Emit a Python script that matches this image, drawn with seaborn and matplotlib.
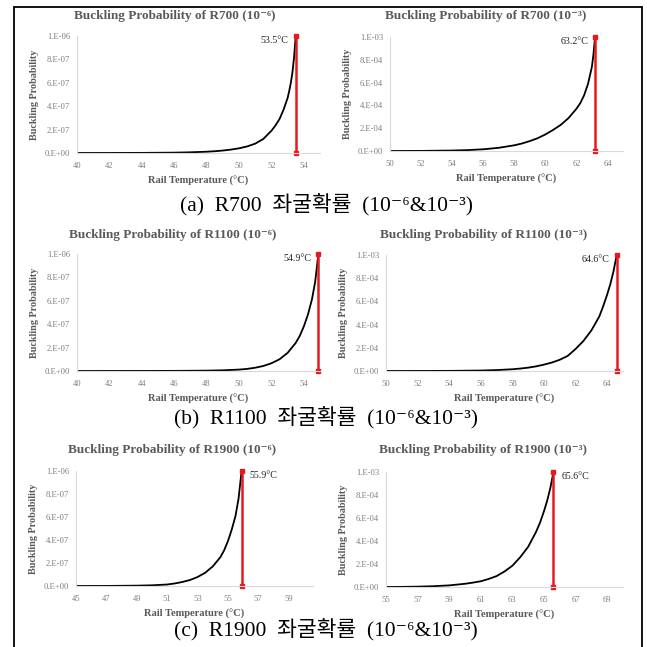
import matplotlib
matplotlib.use("Agg")
import matplotlib.pyplot as plt
import seaborn as sns
import pandas as pd
from matplotlib.patches import Rectangle

# ---------------- data ----------------
r700_e6_T = [40, 42, 44, 45, 46, 47, 48, 48.5, 49, 49.5, 50, 50.5, 51, 51.5, 52,
             52.25, 52.5, 52.75, 53, 53.1, 53.2, 53.3, 53.4, 53.5]
r700_e6_P = [0, 0.0003, 0.001, 0.002, 0.003, 0.006, 0.011, 0.015, 0.021, 0.029, 0.04,
             0.056, 0.08, 0.12, 0.19, 0.235, 0.29, 0.37, 0.47, 0.53, 0.60, 0.69, 0.82, 1.0]

r700_e3_T = [50, 52, 54, 55, 56, 57, 58, 58.5, 59, 59.5, 60, 60.5, 61, 61.5, 62,
             62.25, 62.5, 62.75, 63, 63.1, 63.2]
r700_e3_P = [0, 0.001, 0.004, 0.008, 0.015, 0.028, 0.05, 0.066, 0.087, 0.112, 0.145,
             0.185, 0.23, 0.29, 0.37, 0.42, 0.49, 0.59, 0.74, 0.85, 1.0]

r1100_e6_T = [40, 44, 46, 48, 49, 50, 50.5, 51, 51.5, 52, 52.5, 53, 53.5, 53.75, 54,
              54.25, 54.5, 54.7, 54.9]
r1100_e6_P = [0, 0.0005, 0.001, 0.003, 0.006, 0.012, 0.018, 0.028, 0.043, 0.066, 0.10,
              0.155, 0.24, 0.30, 0.38, 0.48, 0.61, 0.76, 1.0]

r1100_e3_T = [50, 52, 54, 56, 57, 58, 58.5, 59, 59.5, 60, 60.5, 61, 61.5, 62, 62.5, 63,
              63.5, 63.75, 64, 64.2, 64.4, 64.6]
r1100_e3_P = [0, 0.0005, 0.001, 0.004, 0.008, 0.015, 0.021, 0.029, 0.04, 0.055, 0.073,
              0.097, 0.13, 0.19, 0.26, 0.35, 0.47, 0.56, 0.66, 0.75, 0.86, 1.0]

r1900_e6_T = [45, 47, 49, 50, 51, 51.5, 52, 52.5, 53, 53.5, 54, 54.5, 54.75, 55, 55.25,
              55.5, 55.7, 55.9]
r1900_e6_P = [0, 0.0005, 0.003, 0.006, 0.013, 0.022, 0.035, 0.052, 0.078, 0.115, 0.17,
              0.25, 0.31, 0.39, 0.49, 0.61, 0.76, 1.0]

r1900_e3_T = [55, 56, 57, 58, 59, 60, 60.5, 61, 61.5, 62, 62.5, 63, 63.5, 64, 64.5,
              64.75, 65, 65.2, 65.4, 65.6]
r1900_e3_P = [0, 0.001, 0.003, 0.007, 0.014, 0.028, 0.038, 0.05, 0.07, 0.095, 0.135,
              0.185, 0.26, 0.35, 0.48, 0.56, 0.66, 0.75, 0.86, 1.0]

limit_temps = [53.5, 63.2, 54.9, 64.6, 55.9, 65.6]
rails = ["R700", "R700", "R1100", "R1100", "R1900", "R1900"]
levels = ["10⁻⁶", "10⁻³", "10⁻⁶", "10⁻³", "10⁻⁶", "10⁻³"]
scales = [1e-6, 1e-3, 1e-6, 1e-3, 1e-6, 1e-3]

ytick_labels_e6 = ["0.E+00", "2.E-07", "4.E-07", "6.E-07", "8.E-07", "1.E-06"]
ytick_labels_e3 = ["0.E+00", "2.E-04", "4.E-04", "6.E-04", "8.E-04", "1.E-03"]

xticks_list = [
    [40, 42, 44, 46, 48, 50, 52, 54],
    [50, 52, 54, 56, 58, 60, 62, 64],
    [40, 42, 44, 46, 48, 50, 52, 54],
    [50, 52, 54, 56, 58, 60, 62, 64],
    [45, 47, 49, 51, 53, 55, 57, 59],
    [55, 57, 59, 61, 63, 65, 67, 69],
]
xlims = [(40, 55), (50, 65), (40, 55), (50, 65), (45, 60.6), (55, 70)]

captions = ["(a)  R700  좌굴확률  (10⁻⁶&10⁻³)",
            "(b)  R1100  좌굴확률  (10⁻⁶&10⁻³)",
            "(c)  R1900  좌굴확률  (10⁻⁶&10⁻³)"]

curves_T = [r700_e6_T, r700_e3_T, r1100_e6_T, r1100_e3_T, r1900_e6_T, r1900_e3_T]
curves_P = [r700_e6_P, r700_e3_P, r1100_e6_P, r1100_e3_P, r1900_e6_P, r1900_e3_P]

# ---------------- style ----------------
sns.set_theme(style="white")
SERIF = ["Liberation Serif", "Noto Sans CJK KR", "DejaVu Sans"]
plt.rcParams["font.family"] = SERIF

fig = plt.figure(figsize=(6.47, 6.47), dpi=100)
W = H = 647.0

# axes boxes in pixels: (left, top, right, bottom)
boxes = [
    (77, 36, 320, 153), (390, 37, 623, 151),
    (77, 254, 320, 371), (386, 255, 623, 371),
    (76, 471, 313, 586), (386, 472, 623, 587),
]
title_y = [16, 16, 235, 235, 450, 450]
title_x = [175, 486, 173, 484, 172, 483]

GRAY_T = "#595959"
GRAY_TICK = "#7f7f7f"
AX_LINE = "#d9d9d9"
RED = "#e8191e"

for i in range(6):
    l, t, r, b = boxes[i]
    ax = fig.add_axes([l / W, 1 - b / H, (r - l) / W, (b - t) / H])
    s = scales[i]
    df = pd.DataFrame({"T": curves_T[i], "P": [p * s for p in curves_P[i]]})
    sns.lineplot(data=df, x="T", y="P", ax=ax, color="black", linewidth=1.3)
    tl = limit_temps[i]
    ax.plot([tl, tl], [0, s], color=RED, linewidth=1.8, marker="s",
            markersize=3.2, solid_capstyle="butt", clip_on=False)
    if i < 4:
        ax.annotate(f"{tl}°C", xy=(tl, s), xytext=(-5, -3), textcoords="offset points",
                    ha="right", va="center", fontsize=7.2, color="#262626", family=SERIF)
    else:
        ax.annotate(f"{tl}°C", xy=(tl, s), xytext=(6, -3), textcoords="offset points",
                    ha="left", va="center", fontsize=7.2, color="#262626", family=SERIF)
    ax.set_xlim(*xlims[i])
    ax.set_ylim(0, s)
    ax.set_xticks(xticks_list[i])
    ax.set_xticklabels([str(v) for v in xticks_list[i]])
    ax.set_yticks([s * k / 5 for k in range(6)])
    ax.set_yticklabels(ytick_labels_e6 if s == 1e-6 else ytick_labels_e3)
    ax.tick_params(axis="both", length=0, labelsize=6.2, colors=GRAY_TICK)
    ax.tick_params(axis="x", pad=6.5)
    ax.tick_params(axis="y", pad=5)
    for sp in ["top", "right"]:
        ax.spines[sp].set_visible(False)
    for sp in ["left", "bottom"]:
        ax.spines[sp].set_color(AX_LINE)
        ax.spines[sp].set_linewidth(0.8)
    ax.set_xlabel("Rail Temperature (°C)", fontsize=7.6, fontweight="bold",
                  color=GRAY_T, labelpad=4)
    ax.set_ylabel("Buckling Probability", fontsize=7.3, fontweight="bold",
                  color=GRAY_T, labelpad=4)
    ax.patch.set_alpha(0)
    fig.text(title_x[i] / W, 1 - title_y[i] / H,
             f"Buckling Probability of {rails[i]} ({levels[i]})",
             ha="center", va="center", fontsize=9.5, fontweight="bold",
             color=GRAY_T, family=SERIF)

cap_y = [205, 418, 630]
for k in range(3):
    fig.text(326 / W, 1 - cap_y[k] / H, captions[k], ha="center", va="center",
             fontsize=15.5, color="black", family=SERIF)

# outer frame
fig.patches.append(Rectangle((14 / W, -0.02), (642 - 14) / W, 1 - 7 / H + 0.02,
                             transform=fig.transFigure, fill=False,
                             edgecolor="black", linewidth=1.3))

fig.savefig("out.png", dpi=100)
